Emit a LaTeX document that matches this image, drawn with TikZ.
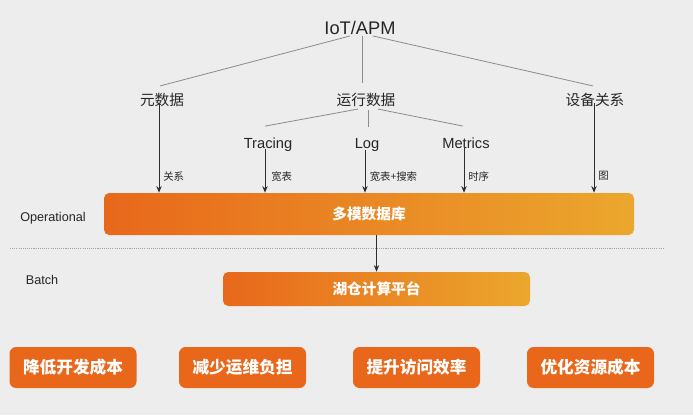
\documentclass[tikz,border=0pt]{standalone}
\usepackage{fontspec}
\setmainfont{Liberation Sans}
\newfontfamily\cjk{Noto Sans CJK SC}
\usetikzlibrary{arrows.meta,calc}
\definecolor{bg}{HTML}{EDEDED}
\definecolor{treeline}{HTML}{8C8C8C}
\definecolor{arrowc}{HTML}{2E2E2E}
\definecolor{orL}{HTML}{E8681B}
\definecolor{orR}{HTML}{EBA72D}
\definecolor{orBox}{HTML}{E8671A}
\begin{document}
\begin{tikzpicture}[x=0.75pt,y=-0.75pt,
  lat/.style={inner sep=0pt, text=black!85, font=\fontsize{11}{13}\selectfont},
  cn/.style={inner sep=0pt, text=black!85, font=\cjk\fontsize{11}{13}\selectfont},
  small/.style={inner sep=0pt, anchor=west, text=black!85, font=\cjk\fontsize{7.8}{9}\selectfont},
  side/.style={inner sep=0pt, text=black!85, font=\fontsize{9.5}{11}\selectfont},
  tree/.style={draw=treeline, line width=0.6pt},
  arr/.style={draw=arrowc, line width=0.7pt, -{Stealth[length=5pt,width=4pt]}},
  gbar/.style={rounded corners=4pt, left color=orL, right color=orR, inner sep=0pt,
     text=white, font=\cjk\bfseries\fontsize{11}{13}\selectfont},
  goal/.style={rounded corners=5pt, fill=orBox, inner sep=0pt, text=white,
     minimum width=95.25pt, minimum height=30.75pt, font=\cjk\bfseries\fontsize{12.5}{14}\selectfont}
]
\fill[bg] (0,0) rectangle (693,415);
\useasboundingbox (0,0) rectangle (693,415);

\node[lat, font=\fontsize{13.7}{16}\selectfont] (iot) at (360,28) {IoT/APM};
\node[cn] (yuan) at (162,100) {元数据};
\node[cn] (yx) at (366,100) {运行数据};
\node[cn] (sb) at (595,100) {设备关系};
\node[lat, anchor=base] (tr) at (268,148) {Tracing};
\node[lat, anchor=base] (log) at (367,148) {Log};
\node[lat, anchor=base] (met) at (466,148) {Metrics};

\node[gbar, minimum width=397.5pt, minimum height=31.5pt] (db) at (369,214) {多模数据库};
\node[gbar, minimum width=230.25pt, minimum height=25.5pt] (lake) at (376.5,289) {湖仓计算平台};

\node[side] (op) at (53,218) {Operational};
\node[side] (batch) at (42,280) {Batch};

\node[goal] (g1) at (73,367.5) {降低开发成本};
\node[goal] (g2) at (242.5,367.5) {减少运维负担};
\node[goal] (g3) at (416.5,367.5) {提升访问效率};
\node[goal] (g4) at (590.5,367.5) {优化资源成本};

% tree lines
\draw[tree] ($(iot.south)+(-10,1)$) -- ($(yuan.north)+(-2,-7)$);
\draw[tree] ($(iot.south)+(2,1)$) -- ($(yx.north)+(-4,-10)$);
\draw[tree] ($(iot.south)+(13,1)$) -- ($(sb.north)+(-2,-7)$);
\draw[tree] ($(yx.south)+(-8,2)$) -- ($(tr.north)+(-3,-11)$);
\draw[tree] ($(yx.south)+(2,3)$) -- ($(log.north)+(1,-11)$);
\draw[tree] ($(yx.south)+(12,2)$) -- ($(met.north)+(-3,-11)$);

% arrows into database
\coordinate (a1) at ($(yuan.south)+(-3,-4)$);
\coordinate (a2) at ($(tr.south)+(-3,-2)$);
\coordinate (a3) at ($(log.south)+(-2,-1)$);
\coordinate (a4) at ($(met.south)+(-2,0)$);
\coordinate (a5) at ($(sb.south)+(-1,-4)$);
\draw[arr] (a1) -- (a1 |- db.north);
\draw[arr] (a2) -- (a2 |- db.north);
\draw[arr] (a3) -- (a3 |- db.north);
\draw[arr] (a4) -- (a4 |- db.north);
\draw[arr] (a5) -- (a5 |- db.north);

\node[small] (l1) at (163,177) {关系};
\node[small] (l2) at (271,177) {宽表};
\node[small] (l3) at (369.5,177) {宽表+搜索};
\node[small] (l4) at (468,177) {时序};
\node[small] (l5) at (598,176) {图};

% separator
\draw[treeline!80, line width=0.6pt, dash pattern=on 0.8pt off 0.8pt] (10,248) -- (663,248);

\draw[arr] (db.south -| lake.north) -- (lake.north);
\end{tikzpicture}
\end{document}
